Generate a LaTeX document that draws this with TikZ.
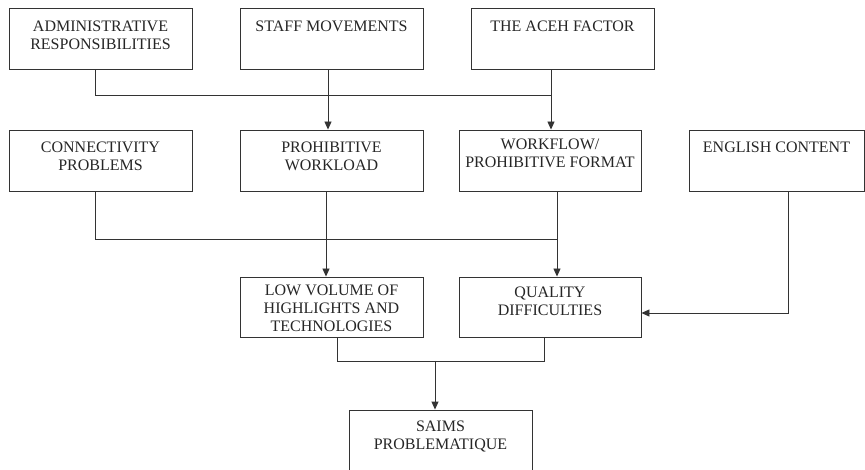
\documentclass[tikz,border=0pt]{standalone}
\usepackage{fontspec}
\setmainfont{Liberation Serif}
\usetikzlibrary{arrows.meta}
\begin{document}
\begin{tikzpicture}[x=1pt,y=-1pt,
  box/.style={draw=black!80, line width=0.9pt, inner sep=0pt},
  lbl/.style={anchor=north, align=center, inner sep=0pt, text=black!85,
    font=\fontsize{16}{18.3}\selectfont},
  link/.style={draw=black!80, line width=0.9pt},
  arr/.style={link, -{Triangle[length=8pt,width=7pt]}}]
\clip (0,0) rectangle (865,470);
\fill[white] (0,0) rectangle (865,470);

% boxes: first row
\node[box, minimum width=183pt, minimum height=61pt] (adm) at (100.5,38.5) {};
\node[box, minimum width=183pt, minimum height=61pt] (stf) at (331.5,38.5) {};
\node[box, minimum width=183pt, minimum height=61pt] (ace) at (562.5,38.5) {};
% second row
\node[box, minimum width=183pt, minimum height=61pt] (con) at (100.5,160.5) {};
\node[box, minimum width=183pt, minimum height=61pt] (wrk) at (331.5,160.5) {};
\node[box, minimum width=182pt, minimum height=61pt] (wfl) at (550,160.5) {};
\node[box, minimum width=175pt, minimum height=61pt] (eng) at (776.5,160.5) {};
% third row
\node[box, minimum width=183pt, minimum height=60pt] (low) at (331.5,307) {};
\node[box, minimum width=182pt, minimum height=60pt] (qua) at (550,307) {};
% result
\node[box, minimum width=183pt, minimum height=80pt] (sai) at (440.5,450) {};

% labels
\node[lbl] (tadm) at ([yshift=-13pt]adm.north) {ADMINISTRATIVE\\RESPONSIBILITIES};
\node[lbl] (tstf) at ([yshift=-13pt]stf.north) {STAFF MOVEMENTS};
\node[lbl] (tace) at ([yshift=-13pt]ace.north) {THE ACEH FACTOR};
\node[lbl] (tcon) at ([yshift=-12pt]con.north) {CONNECTIVITY\\PROBLEMS};
\node[lbl] (twrk) at ([yshift=-12pt]wrk.north) {PROHIBITIVE\\WORKLOAD};
\node[lbl] (twfl) at ([yshift=-9pt]wfl.north) {WORKFLOW/\\PROHIBITIVE FORMAT};
\node[lbl] (teng) at ([yshift=-12pt]eng.north) {ENGLISH CONTENT};
\node[lbl] (tlow) at ([yshift=-8pt]low.north) {LOW VOLUME OF\\HIGHLIGHTS AND\\TECHNOLOGIES};
\node[lbl] (tqua) at ([yshift=-10pt]qua.north) {QUALITY\\DIFFICULTIES};
\node[lbl] (tsai) at ([yshift=-11pt]sai.north) {SAIMS\\PROBLEMATIQUE};

% junction points
\coordinate (j1) at (551,95);
\coordinate (j2) at (557,239);
\coordinate (j3) at (435,361);

% connectors
\draw[link] (adm.south -| 95,0) |- (j1);
\draw[arr] (ace.south -| j1) -- (wfl.north -| j1);
\draw[arr] (stf.south -| 328,0) -- (wrk.north -| 328,0);
\draw[link] (con.south -| 95,0) |- (j2);
\draw[arr] (wfl.south -| j2) -- (qua.north -| j2);
\draw[arr] (wrk.south -| 326,0) -- (low.north -| 326,0);
\draw[arr] (eng.south -| 788,0) |- (qua.east |- 0,313);
\draw[link] (low.south -| 337,0) |- (j3);
\draw[link] (qua.south -| 544,0) |- (j3);
\draw[arr] (j3) -- (sai.north -| j3);
\end{tikzpicture}
\end{document}
